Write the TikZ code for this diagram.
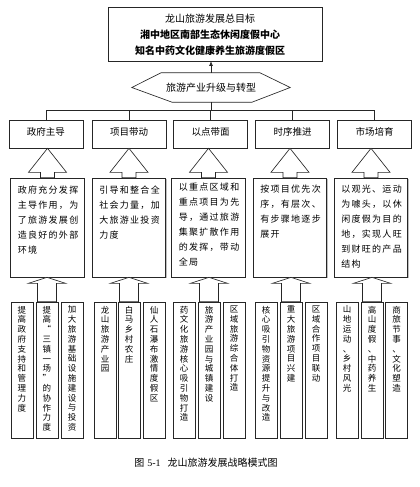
\documentclass[tikz,border=0pt]{standalone}
\usepackage{fontspec}
\setmainfont{Noto Sans CJK SC}
\newfontfamily\serifen{Liberation Serif}
\usetikzlibrary{calc,arrows.meta,shadows}

% one line of description text, fixed pitch per character
\newcommand\descline[1]{\hbox{\desclineA#1\relax}}
\def\desclineA#1{\ifx#1\relax\else\hbox to 10.3pt{\hss#1\hss}\expandafter\desclineA\fi}
% vertical column text, one character per line
\newcommand\vcolumn[1]{\vbox{\baselineskip=9.8pt\lineskiplimit=-20pt\lineskip=0pt\vcolumnA#1\relax}}
\def\vcolumnA#1{\ifx#1\relax\else\hbox to 12pt{\hss#1\hss}\expandafter\vcolumnA\fi}
% hollow block arrow pointing up: #1 tip, #2 bottom centre, #3 head length, #4 head half width, #5 shaft half width
\newcommand\blkarrow[5]{%
  \draw[ln,fill=white] (#1) -- ($(#1)+(#4,#3)$) -- ($(#1)+(#5,#3)$) -- ($(#2)+(#5,0)$)
    -- ($(#2)+(-#5,0)$) -- ($(#1)+(-#5,#3)$) -- ($(#1)+(-#4,#3)$) -- cycle;}

\begin{document}
\begin{tikzpicture}[x=1pt,y=-1pt,
  ln/.style={draw=black!85,line width=0.65pt},
  bx/.style={ln,fill=white,inner sep=0pt,
    drop shadow={shadow xshift=0.8pt,shadow yshift=-0.8pt,fill=black!25,opacity=1}},
  hd/.style={bx,minimum width=74pt,minimum height=28pt,font=\fontsize{9.5}{11}\selectfont},
  ds/.style={bx,minimum width=73.5pt,minimum height=99pt},
  dt/.style={anchor=north west,inner sep=0pt,font=\fontsize{9}{15}\selectfont},
  cl/.style={bx,minimum width=22pt,minimum height=136pt},
  vt/.style={anchor=north,inner sep=0pt,font=\fontsize{8.5}{9.8}\selectfont}]
\fill[white] (0,0) rectangle (420,487);
\useasboundingbox (0,0) rectangle (420,487);

% goal box
\node[bx,minimum width=214pt,minimum height=54pt] (goal) at (215,34) {};
\node[align=center,inner sep=0pt,font=\fontsize{10}{16.2}\selectfont] (goaltxt) at (210,34.5)
  {龙山旅游发展总目标\\\textbf{湘中地区南部生态休闲度假中心}\\\textbf{知名中药文化健康养生旅游度假区}};

% hexagon
\node[minimum width=158pt,minimum height=29pt,inner sep=0pt,font=\fontsize{10}{12}\selectfont] (hex) at (211,87.5) {旅游产业升级与转型};
\draw[ln] ($(hex.north)+(-50,0)$) -- ($(hex.north)+(49,0)$) -- (hex.east) -- ($(hex.south)+(41,0)$)
  -- ($(hex.south)+(-39,0)$) -- (hex.west) -- cycle;
\draw[ln,-{Latex[length=4.5pt,width=4pt]}] (hex.north) -- (hex.north |- goal.south);

% header boxes
\node[hd] (h1) at (46,134)    {\raisebox{2pt}[\height][\depth]{政府主导}};
\node[hd] (h2) at (129,134)   {\raisebox{2pt}[\height][\depth]{项目带动}};
\node[hd] (h3) at (210.5,134) {\raisebox{2pt}[\height][\depth]{以点带面}};
\node[hd] (h4) at (292.5,134) {\raisebox{2pt}[\height][\depth]{时序推进}};
\node[hd] (h5) at (374.5,134) {\raisebox{2pt}[\height][\depth]{市场培育}};

\coordinate (bus) at ($(hex.south)+(0,8)$);
\draw[ln] (hex.south) -- (bus);
\draw[ln] (h1.north) -- (h1.north |- bus) -- (h5.north |- bus) -- (h5.north);
\foreach \n in {2,3,4} \draw[ln] (h\n.north) -- (h\n.north |- bus);

% description boxes
\node[ds] (d1) at (47.5,227.5) {};
\node[ds] (d2) at (129,227.5) {};
\node[ds] (d3) at (208.5,227.5) {};
\node[ds] (d4) at (290,227.5) {};
\node[ds] (d5) at (371,227.5) {};

\node[dt] (t1) at ($(d1.north west)+(6.5,7.5)$) {\vbox{\baselineskip=15pt
  \descline{政府充分发挥}\descline{主导作用，为}\descline{了旅游发展创}\descline{造良好的外部}\descline{环境}}};
\node[dt] (t2) at ($(d2.north west)+(6.5,7.5)$) {\vbox{\baselineskip=15pt
  \descline{引导和整合全}\descline{社会力量，加}\descline{大旅游业投资}\descline{力度}}};
\node[dt] (t3) at ($(d3.north west)+(6.5,5.5)$) {\vbox{\baselineskip=15pt
  \descline{以重点区域和}\descline{重点项目为先}\descline{导，通过旅游}\descline{集聚扩散作用}\descline{的发挥，带动}\descline{全局}}};
\node[dt] (t4) at ($(d4.north west)+(6.5,7.5)$) {\vbox{\baselineskip=15pt
  \descline{按项目优先次}\descline{序，有层次、}\descline{有步骤地逐步}\descline{展开}}};
\node[dt] (t5) at ($(d5.north west)+(6.5,7.5)$) {\vbox{\baselineskip=15pt
  \descline{以观光、运动}\descline{为噱头，以休}\descline{闲度假为目的}\descline{地，实现人旺}\descline{到财旺的产品}\descline{结构}}};

% upper block arrows
\foreach \n in {1,...,5} {
  \coordinate (up\n) at (d\n.north |- h\n.south);
  \blkarrow{up\n}{d\n.north}{24}{19}{7}
}

% columns
\node[cl] (c11) at (22,370) {};  \node[cl] (c12) at (47,370) {};  \node[cl] (c13) at (72,370) {};
\node[cl] (c21) at (105,370) {}; \node[cl] (c22) at (129,370) {}; \node[cl] (c23) at (154,370) {};
\node[cl] (c31) at (184,370) {}; \node[cl] (c32) at (209,370) {}; \node[cl] (c33) at (234,370) {};
\node[cl] (c41) at (266,370) {}; \node[cl] (c42) at (291,370) {}; \node[cl] (c43) at (316,370) {};
\node[cl] (c51) at (347,370) {}; \node[cl] (c52) at (372,370) {}; \node[cl] (c53) at (396.5,370) {};

\node[vt] (v11) at ($(c11.north)+(0,4)$) {\vcolumn{提高政府支持和管理力度}};
\node[vt] (v12) at ($(c12.north)+(0,4)$) {\vcolumn{提高“三镇一场”的协作力度}};
\node[vt] (v13) at ($(c13.north)+(0,4)$) {\vcolumn{加大旅游基础设施建设与投资}};
\node[vt] (v21) at ($(c21.north)+(0,4)$) {\vcolumn{龙山旅游产业园}};
\node[vt] (v22) at ($(c22.north)+(0,4)$) {\vcolumn{白马乡村农庄}};
\node[vt] (v23) at ($(c23.north)+(0,4)$) {\vcolumn{仙人石瀑布激情度假区}};
\node[vt] (v31) at ($(c31.north)+(0,4)$) {\vcolumn{药文化旅游核心吸引物打造}};
\node[vt] (v32) at ($(c32.north)+(0,4)$) {\vcolumn{旅游产业园与城镇建设}};
\node[vt] (v33) at ($(c33.north)+(0,4)$) {\vcolumn{区域旅游综合体打造}};
\node[vt] (v41) at ($(c41.north)+(0,4)$) {\vcolumn{核心吸引物资源提升与改造}};
\node[vt] (v42) at ($(c42.north)+(0,4)$) {\vcolumn{重大旅游项目兴建}};
\node[vt] (v43) at ($(c43.north)+(0,4)$) {\vcolumn{区域合作项目联动}};
\node[vt] (v51) at ($(c51.north)+(0,4)$) {\vcolumn{山地运动、乡村风光}};
\node[vt] (v52) at ($(c52.north)+(0,4)$) {\vcolumn{高山度假、中药养生}};
\node[vt] (v53) at ($(c53.north)+(0,4)$) {\vcolumn{商旅节事、文化塑造}};

% lower block arrows
\foreach \n in {1,...,5} {
  \coordinate (lo\n) at (c\n2.north |- d\n.south);
  \blkarrow{lo\n}{c\n2.north}{6}{18.5}{9.5}
}

% caption
\node[inner sep=0pt,font=\fontsize{10}{12}\selectfont] (cap) at (206,463)
  {图\hspace{0.3em}{\serifen 5-1}\hspace{0.7em}龙山旅游发展战略模式图};
\end{tikzpicture}
\end{document}
